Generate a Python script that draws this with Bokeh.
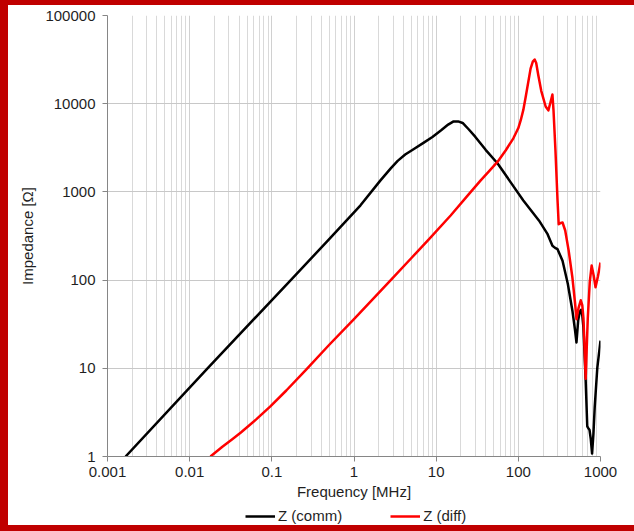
from bokeh.plotting import figure
from bokeh.layouts import column
from bokeh.models import (Range1d, FixedTicker, CustomJSTickFormatter, Legend, LegendItem)
from bokeh.embed import file_html
from bokeh.resources import INLINE

# ---- data ----
freq_comm = [0.00166, 0.0165, 0.17, 0.48, 1.2, 2.1, 2.8, 3.4, 4.2, 5.3, 7, 9, 11.5, 14,
             16.3, 18.5, 21, 25, 30, 40, 56, 80, 115, 178, 225, 260, 280, 300, 345, 400,
             455, 490, 510, 535, 560, 580, 600, 620, 660, 690, 710, 735, 760, 790, 820,
             850, 915, 1000]
z_comm = [1.0, 10.0, 100.0, 280, 705, 1350, 1850, 2250, 2650, 3050, 3600, 4200, 5000, 5800,
          6300, 6300, 6050, 5100, 4200, 3000, 2100, 1300, 800, 475, 337, 245, 232, 224, 166, 91,
          45, 27, 19.6, 35, 44, 46, 40, 29, 7.3, 2.2, 2.1, 2.0, 1.6, 1.08, 1.8,
          3.6, 10.2, 20.6]

freq_diff = [0.0179, 0.025, 0.033, 0.042, 0.065, 0.096, 0.15, 0.26, 0.5, 1.0, 2.8, 5.0, 8.3,
             15, 24.7, 34.6, 45, 56, 70, 87, 100, 107, 115, 123, 141, 150, 158, 165, 175, 190,
             215, 232, 245, 260, 268, 283, 300, 310, 330, 345, 372, 410, 455, 490, 510, 540,
             575, 600, 620, 640, 660, 700, 740, 780, 830, 870, 930, 1000]
z_diff = [1.0, 1.29, 1.57, 1.87, 2.65, 3.7, 5.6, 9.6, 18.5, 36, 100, 178, 295,
          540, 930, 1340, 1750, 2200, 2950, 4050, 5300, 6500, 8500, 12000, 25000, 30000, 31700,
          29000, 21000, 14000,
          9300, 8400, 10200, 12700, 8400, 2950, 800, 430, 445, 450, 365, 215, 107, 55, 36, 48,
          59, 52, 37, 17, 7.6, 37, 95, 146, 110, 83, 110, 158]

series_names = ["Z (comm)", "Z (diff)"]
series_colors = ["black", "#ff0000"]
series_x = [freq_comm, freq_diff]
series_y = [z_comm, z_diff]

x_ticks = [0.001, 0.01, 0.1, 1, 10, 100, 1000]
y_ticks = [1, 10, 100, 1000, 10000, 100000]
x_minor = [m * d for d in [0.001, 0.01, 0.1, 1, 10, 100] for m in range(2, 10)]

FONT = "Liberation Sans"
TXT = "#1f1f1f"
RED = "#c00000"

fig = figure(width=634, height=503, x_axis_type="log", y_axis_type="log",
             x_range=Range1d(0.001, 1000), y_range=Range1d(1, 100000),
             output_backend="svg", toolbar_location=None,
             min_border_left=107, min_border_right=34, min_border_top=15, min_border_bottom=47)
fig.outline_line_color = None
fig.background_fill_color = "white"
fig.border_fill_color = None

fig.xaxis.ticker = FixedTicker(ticks=x_ticks, minor_ticks=x_minor)
fig.yaxis.ticker = FixedTicker(ticks=y_ticks, minor_ticks=[])
fig.xaxis.formatter = CustomJSTickFormatter(code="return String(tick);")
fig.yaxis.formatter = CustomJSTickFormatter(code="return String(tick);")

for ax in (fig.xaxis, fig.yaxis):
    ax.axis_line_color = "#868686"
    ax.axis_line_width = 1
    ax.major_tick_line_color = "#868686"
    ax.major_tick_in = 0
    ax.major_tick_out = 5
    ax.minor_tick_line_color = None
    ax.major_label_text_font = FONT
    ax.major_label_text_font_size = "15px"
    ax.major_label_text_color = TXT
    ax.axis_label_text_font = FONT
    ax.axis_label_text_font_size = "15px"
    ax.axis_label_text_font_style = "normal"
    ax.axis_label_text_color = TXT

fig.xaxis.axis_label = "Frequency [MHz]"
fig.yaxis.axis_label = "Impedance [Ω]"
fig.xaxis.major_label_standoff = 5
fig.xaxis.axis_label_standoff = 3
fig.yaxis.major_label_standoff = 7
fig.yaxis.axis_label_standoff = 6

fig.xgrid.grid_line_color = "#d0d0d0"
fig.xgrid.minor_grid_line_color = "#d9d9d9"
fig.ygrid.grid_line_color = "#c8c8c8"
fig.ygrid.minor_grid_line_color = None

for xs, ys, col in zip(series_x, series_y, series_colors):
    fig.line(xs, ys, line_color=col, line_width=2.5, line_join="round")

# legend strip below the chart (its own small figure, so nothing clips it);
# the same series are drawn there outside its visible range, only to feed the legend
leg = figure(width=634, height=28, x_range=Range1d(0, 1), y_range=Range1d(-2, -1),
             output_backend="svg", toolbar_location=None,
             min_border=0, min_border_left=0, min_border_right=0,
             min_border_top=0, min_border_bottom=0)
leg.axis.visible = False
leg.grid.visible = False
leg.outline_line_color = None
leg.background_fill_color = None
leg.border_fill_color = None
items = []
for xs, ys, name, col in zip(series_x, series_y, series_names, series_colors):
    r = leg.line(xs, ys, line_color=col, line_width=2.5)
    items.append(LegendItem(label=name, renderers=[r]))
legend = Legend(items=items, orientation="horizontal", location=(138, 7))
legend.label_text_font = FONT
legend.label_text_font_size = "15px"
legend.label_text_color = TXT
legend.glyph_width = 30
legend.glyph_height = 16
legend.label_standoff = 3
legend.spacing = 48
legend.padding = 0
legend.margin = 0
legend.border_line_color = None
legend.background_fill_alpha = 0
leg.add_layout(legend, "center")

p = column(fig, leg, spacing=0)
# red frame drawn as an inset shadow behind the transparent figure borders
p.styles = {"box-shadow": f"inset 8px 5px 0 0 {RED}, inset 0 -6px 0 0 {RED}"}

open("out.html", "w").write(file_html(p, INLINE))
